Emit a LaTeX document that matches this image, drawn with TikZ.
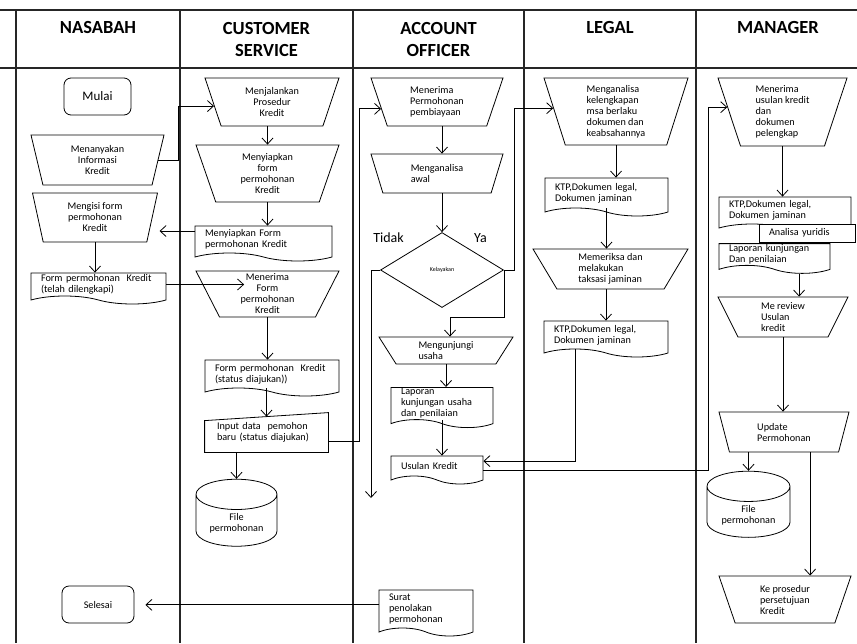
\documentclass[tikz,border=0pt]{standalone}
\usepackage{fontspec}
\setmainfont{Carlito}
\usetikzlibrary{shapes.geometric,shapes.symbols,arrows.meta,calc}
\newcommand{\txt}{\fontsize{10.2}{11}\selectfont}
\newcommand{\hdr}{\fontsize{18.5}{22}\selectfont\bfseries}

\begin{document}
\begin{tikzpicture}[x=1pt, y=-1pt,
    lane/.style={line width=1.4pt, draw=black!85},
    shp/.style={draw, line width=0.8pt, fill=white, font=\txt},
    manop/.style={shp, trapezium, trapezium stretches body, shape border rotate=180, inner sep=0pt, align=left},
    doc/.style={shp, tape, tape bend top=none, tape bend bottom=out and in, tape bend height=8pt, inner xsep=10pt, inner ysep=1pt, align=left},
    term/.style={shp, rectangle, rounded corners=7pt},
    store/.style={shp, cylinder, shape border rotate=90, aspect=0.5, align=center, text height=18pt},
    decision/.style={shp, diamond, inner sep=0pt, font=\fontsize{6}{7}\selectfont},
    inputbox/.style={shp, draw=none, fill=none, rectangle, inner xsep=12pt, align=left},
    arr/.style={line width=0.8pt, -{Straight Barb[length=6pt, width=11pt]}},
    link/.style={line width=0.8pt}]
    \useasboundingbox (0,0) rectangle (857,643);

    % Lanes
    \foreach \x in {16,180,353,524,696}
        \draw[lane] (\x,10) -- (\x,643);
    \draw[lane] (0,10) -- (857,10);
    \draw[lane] (0,68) -- (857,68);

    \node[font=\hdr] (hnasabah) at (98,27.5) {NASABAH};
    \node[font=\hdr, align=center] (hcs) at (266.5,39) {CUSTOMER\\SERVICE};
    \node[font=\hdr, align=center] (hao) at (438.5,39) {ACCOUNT\\OFFICER};
    \node[font=\hdr] (hlegal) at (610,27.5) {LEGAL};
    \node[font=\hdr] (hmgr) at (778,27.5) {MANAGER};

    % Nasabah
    \node[term, font=\fontsize{13}{14}\selectfont, minimum width=67pt, minimum height=37pt] (mulai) at (97.5,96.5) {Mulai};
    \node[manop, align=center, minimum width=133pt, minimum height=50pt, trapezium angle=67.7] (tanya) at (97.5,160) {Menanyakan\\Informasi\\Kredit};
    \node[manop, align=center, minimum width=125pt, minimum height=49pt, trapezium angle=69.8] (isi) at (95,217.5) {Mengisi form\\permohonan\\Kredit};
    \node[doc, text width=115pt, minimum height=31pt] (lengkap) at (98.5,284.5) {Form permohonan~ Kredit\\(telah dilengkapi)};
    \node[term, minimum width=72pt, minimum height=37pt] (selesai) at (98,604.5) {Selesai};

    % Customer service
    \node[manop, align=center, minimum width=134pt, minimum height=48pt, trapezium angle=61.1] (jalan) at (272,102) {Menjalankan\\Prosedur\\Kredit};
    \node[manop, align=center, minimum width=143pt, minimum height=57pt, trapezium angle=63.8] (siap) at (267.5,173.5) {Menyiapkan\\form\\permohonan\\Kredit};
    \node[doc, text width=117pt, minimum height=35pt] (siapdoc) at (263.5,239.5) {Menyiapkan Form\\permohonan Kredit};
    \node[manop, align=center, minimum width=143pt, minimum height=46pt, trapezium angle=59.6] (terimaform) at (267.5,294) {Menerima\\Form\\permohonan\\Kredit};
    \node[doc, text width=114pt, minimum height=36pt] (diajukan) at (272,374) {Form permohonan~ Kredit\\(status diajukan))};
    \node[inputbox, text width=99pt, minimum height=39pt] (input) at (266.5,432.5) {Input data~ pemohon\\baru (status diajukan)};
    \draw[link] ([yshift=-8pt]input.north west) -- (input.north east) -- (input.south east) -- (input.south west) -- cycle;
    \coordinate (inputtop) at ($([yshift=-8pt]input.north west)!0.5!(input.north east)$);
    \node[store, minimum width=81pt, minimum height=67pt] (filecs) at (236.5,523.5) {File\\permohonan};

    % Account officer
    \node[manop, minimum width=132pt, minimum height=48pt, trapezium angle=62] (terimaao) at (437,102) {Menerima\\Permohonan\\pembiayaan};
    \node[manop, minimum width=132pt, minimum height=39pt, trapezium angle=56.8] (awal) at (437,173.5) {Menganalisa\\awal};
    \node[decision, minimum width=123pt, minimum height=75pt] (layak) at (442,270) {Kelayakan};
    \node[font=\fontsize{14}{16}\selectfont, anchor=base] (tidak) at (388.5,242) {Tidak};
    \node[font=\fontsize{14}{16}\selectfont, anchor=base] (ya) at (480.5,242) {Ya};
    \node[manop, minimum width=134pt, minimum height=27pt, trapezium angle=46.6] (kunjungi) at (446,350.5) {Mengunjungi\\usaha};
    \node[doc, text width=82pt, minimum height=37pt] (laporao) at (442,403.5) {Laporan\\kunjungan usaha\\dan penilaian};
    \node[doc, text width=72pt, minimum height=28pt] (usulan) at (437,466) {Usulan Kredit};
    \node[doc, text width=74pt, minimum height=46pt] (surat) at (426,609) {Surat\\penolakan\\permohonan};
    \coordinate (tolak) at (371,498);

    % Legal
    \node[manop, minimum width=144pt, minimum height=67pt, trapezium angle=68] (kelengkapan) at (616,111.5) {Menganalisa\\kelengkapan\\msa berlaku\\dokumen dan\\keabsahannya};
    \node[doc, text width=103pt, minimum height=38pt] (ktpa) at (606.5,193) {KTP,Dokumen legal,\\Dokumen jaminan};
    \node[manop, minimum width=155pt, minimum height=40pt, trapezium angle=52.2] (taksasi) at (610.5,269) {Memeriksa dan\\melakukan\\taksasi jaminan};
    \node[doc, text width=104pt, minimum height=36pt] (ktpb) at (606,335) {KTP,Dokumen legal,\\Dokumen jaminan};

    % Manager
    \node[manop, minimum width=129pt, minimum height=68pt, trapezium angle=66.9] (terimamgr) at (782.5,112) {Menerima\\usulan kredit\\dan\\dokumen\\pelengkap};
    \node[doc, text width=112pt, minimum height=35pt] (ktpc) at (785,210.5) {KTP,Dokumen legal,\\Dokumen jaminan};
    \node[shp, rectangle, text width=76pt, inner xsep=10pt, minimum height=18pt] (yuridis) at (807,233) {Analisa yuridis};
    \node[doc, text width=91pt, minimum height=27pt] (lapormgr) at (774.5,254.5) {Laporan kunjungan\\Dan penilaian};
    \node[manop, minimum width=130pt, minimum height=40pt, trapezium angle=55.5] (review) at (783,317) {Me review\\Usulan\\kredit};
    \node[manop, minimum width=130pt, minimum height=40pt, trapezium angle=60.1] (update) at (784,432) {Update\\Permohonan};
    \node[store, minimum width=83pt, minimum height=66pt] (filemgr) at (748.5,515) {File\\permohonan};
    \node[manop, minimum width=132pt, minimum height=47pt, trapezium angle=61] (ke) at (785,599.5) {Ke prosedur\\persetujuan\\Kredit};

    % Connectors
    \draw[arr] (tanya.east) -- ++(20,0) |- (jalan.184);
    \draw[arr] (siap.north |- jalan.south) -- (siap.north);
    \draw[arr] (siap.south) -- (siap.south |- siapdoc.north);
    \draw[arr, shorten >=7pt] (siapdoc.173) -- (siapdoc.173 -| isi.east);
    \draw[arr] (isi.south) -- (isi.south |- lengkap.north);
    \draw[arr] (lengkap.east) -- (lengkap.east -| terimaform.north west);
    \draw[arr] (terimaform.south) -- (terimaform.south |- diajukan.north);
    \draw[arr] (diajukan.south -| inputtop) -- (inputtop);
    \draw[arr] (input.south -| filecs.north) -- (filecs.north);
    \draw[arr] (input.-8) -- ++(31,0) |- (terimaao.187);
    \draw[arr] (layak.north |- terimaao.south) -- (layak.north |- awal.north);
    \draw[arr] (layak.north |- awal.south) -- (layak.north);
    \draw[arr] (layak.west) -| (tolak);
    \draw[arr] (layak.east) -- ++(10,0) |- (kelengkapan.177);
    \draw[arr] (layak.east) -- ++(0,47) -| ([xshift=4pt]kunjungi.north);
    \draw[arr] (kunjungi.south) -- (kunjungi.south |- laporao.north);
    \draw[arr] (laporao.south) -- (laporao.south |- usulan.north);
    \draw[arr, shorten >=11pt] (surat.175) -- (surat.175 -| selesai.east);
    \draw[arr] (kelengkapan.south) -- (kelengkapan.south |- ktpa.north);
    \draw[arr] (ktpa.south) -- (ktpa.south |- taksasi.north);
    \draw[arr] (ktpb.north |- taksasi.south) -- (ktpb.north);
    \draw[arr] (ktpb.243) |- (usulan.6);
    \draw[arr] (usulan.-6) -- ++(225,0) |- (terimamgr.175);
    \draw[arr] (terimamgr.south) -- (terimamgr.south |- ktpc.north);
    \draw[arr] (lapormgr.-38) -- (lapormgr.-38 |- review.north);
    \draw[arr] (review.south) -- (review.south |- update.north);
    \draw[arr] (filemgr.north |- update.south) -- (filemgr.north);
    \draw[arr] (update.-38) -- (update.-38 |- ke.north);
\end{tikzpicture}
\end{document}
